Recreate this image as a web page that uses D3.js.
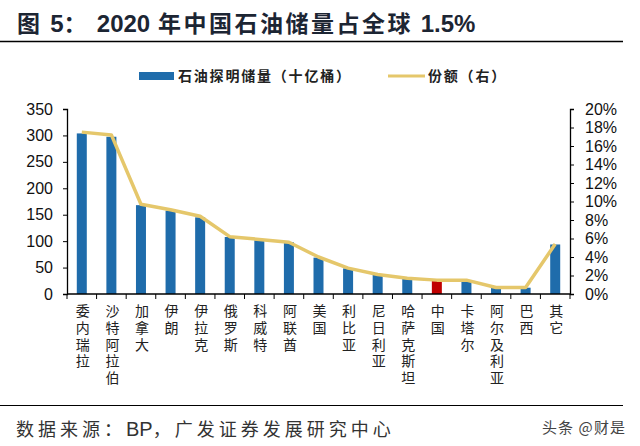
<!DOCTYPE html>
<html><head><meta charset="utf-8">
<script src="https://cdn.jsdelivr.net/npm/d3@7"></script>
<style>body{margin:0;background:#fff}svg{display:block}</style>
</head><body>
<svg id="c" width="640" height="446"></svg>
<script>
const categories = ["委内瑞拉","沙特阿拉伯","加拿大","伊朗","伊拉克","俄罗斯","科威特","阿联酋","美国","利比亚","尼日利亚","哈萨克斯坦","中国","卡塔尔","阿尔及利亚","巴西","其它"];
const reserves = [303.8,297.5,168.1,157.8,145.0,107.8,101.5,97.8,68.8,48.4,36.9,30.0,26.0,25.2,12.2,11.9,93.7];
const shares = [17.5,17.2,9.7,9.1,8.4,6.2,5.9,5.6,4.0,2.8,2.1,1.7,1.5,1.5,0.7,0.7,5.4];
const leftTicks = [0,50,100,150,200,250,300,350];
const rightTicks = [0,2,4,6,8,10,12,14,16,18,20];
const highlight = "中国";

const svg = d3.select("#c");
const L=67, R=570, T=109, B=294;
const x = d3.scaleBand().domain(categories).range([L,R]);
const yL = d3.scaleLinear().domain([0,350]).range([B,T]);
const yR = d3.scaleLinear().domain([0,20]).range([B,T]);
const blue="#1f6cab", gold="#e5c76b", red="#c00000";
const numFont="Liberation Sans, Arial, sans-serif";
const cjk="'Noto Sans CJK SC', sans-serif";

// title
const title=svg.append("text").attr("x",17).attr("y",32).attr("font-weight","bold").attr("fill","#1c2533");
const tparts=[["图 ",0],["5",1],["： ",0],["2020",1],[" 年中国石油储量占全球 ",0],["1.5%",1]];
tparts.forEach(([s,num])=>{
  const t=title.append("tspan").text(s);
  if(num) t.attr("font-family",numFont).attr("font-size",24);
  else t.attr("font-family",cjk).attr("font-size",23).attr("letter-spacing",2.5);
});
svg.append("line").attr("x1",0).attr("x2",623).attr("y1",41.5).attr("y2",41.5).attr("stroke","#000").attr("stroke-width",1.3);

// legend
svg.append("rect").attr("x",139).attr("y",72).attr("width",35).attr("height",8).attr("fill",blue);
svg.append("text").attr("x",178).attr("y",81).attr("font-family",cjk).attr("font-weight","bold").attr("font-size",14)
  .attr("letter-spacing",1.8).attr("fill","#222").text("石油探明储量（十亿桶）");
svg.append("line").attr("x1",388).attr("x2",425).attr("y1",76).attr("y2",76).attr("stroke",gold).attr("stroke-width",3);
svg.append("text").attr("x",428).attr("y",81).attr("font-family",cjk).attr("font-weight","bold").attr("font-size",14)
  .attr("letter-spacing",1.8).attr("fill","#222").text("份额（右）");

// bars
const bw=10;
svg.append("g").selectAll("rect").data(categories).join("rect")
  .attr("x",d=>x(d)+x.bandwidth()/2-bw/2).attr("width",bw)
  .attr("y",(d,i)=>yL(reserves[i])).attr("height",(d,i)=>B-yL(reserves[i]))
  .attr("fill",d=>d===highlight?red:blue);

// line
const line=d3.line().x((d,i)=>x(categories[i])+x.bandwidth()/2).y(d=>yR(d));
svg.append("path").datum(shares).attr("d",line).attr("fill","none").attr("stroke",gold).attr("stroke-width",3.5).attr("stroke-linejoin","round");

// axes
const gl=svg.append("g").attr("transform",`translate(${L},0)`)
  .call(d3.axisLeft(yL).tickValues(leftTicks).tickSize(4).tickPadding(10).tickFormat(d3.format("d")));
const gr=svg.append("g").attr("transform",`translate(${R},0)`)
  .call(d3.axisRight(yR).tickValues(rightTicks).tickSize(4).tickPadding(11).tickFormat(d=>d+"%"));
const gb=svg.append("g").attr("transform",`translate(0,${B})`)
  .call(d3.axisBottom(x).tickSize(5).tickFormat(""));
gb.selectAll(".tick").remove();
gb.selectAll(".edge").data(d3.range(categories.length+1)).join("line")
  .attr("x1",i=>L+i*x.bandwidth()).attr("x2",i=>L+i*x.bandwidth()).attr("y1",0).attr("y2",5).attr("stroke","#000");
[gl,gr,gb].forEach(g=>{g.selectAll("path.domain").attr("stroke","#000").attr("stroke-width",1.3);
  g.selectAll(".tick line").attr("stroke","#000");
  g.selectAll("text").attr("font-family",numFont).attr("font-size",16).attr("fill","#111");});
gb.select("path.domain").attr("d",`M${L},0H${R}`);

// category labels vertical
svg.append("g").selectAll("text").data(categories).join("text")
  .attr("x",d=>x(d)+x.bandwidth()/2+1).attr("y",304)
  .style("writing-mode","vertical-rl").attr("letter-spacing",2.7)
  .attr("font-family",cjk).attr("font-size",14).attr("fill","#222")
  .text(d=>d);

// footer
svg.append("line").attr("x1",0).attr("x2",623).attr("y1",405.5).attr("y2",405.5).attr("stroke","#000").attr("stroke-width",1.2);
const foot=svg.append("text").attr("x",16).attr("y",436).attr("fill","#333");
[["数据来源：",0],["BP",1],["，广发证券发展研究中心",0]].forEach(([s,num])=>{
  const t=foot.append("tspan").text(s);
  if(num) t.attr("font-family",numFont).attr("font-size",20);
  else t.attr("font-family",cjk).attr("font-size",18).attr("letter-spacing",4);
});
svg.append("text").attr("x",542).attr("y",433).attr("font-family",cjk).attr("font-size",15).attr("fill","#444")
  .attr("textLength",83).attr("lengthAdjust","spacing").text("头条 @财是");
</script>
</body></html>
